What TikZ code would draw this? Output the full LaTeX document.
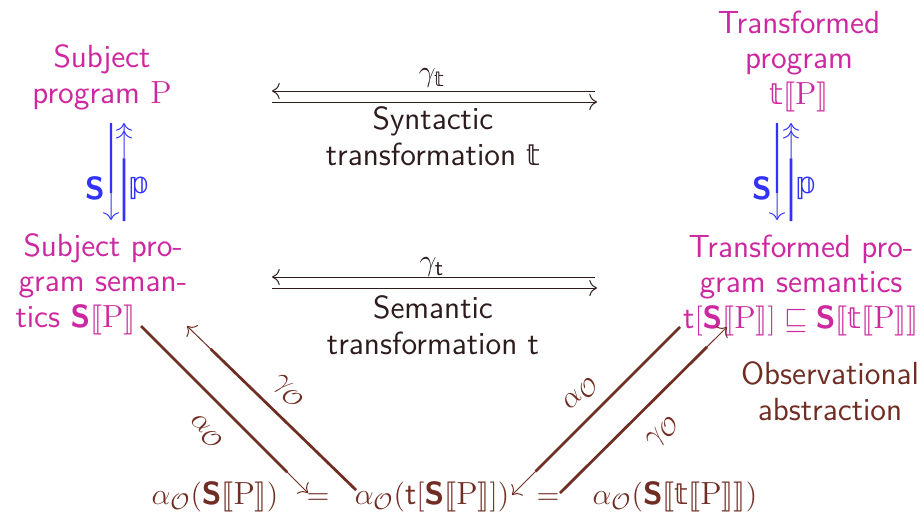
\documentclass[tikz,border=0pt]{standalone}
\usepackage{amsmath}
\usepackage{stmaryrd}
\usepackage{fontspec}
\newfontfamily\djv{DejaVu Sans}[Scale=0.92]
\usetikzlibrary{calc,arrows.meta}
\definecolor{mag}{RGB}{205,40,160}
\definecolor{blu}{RGB}{50,50,250}
\definecolor{brn}{RGB}{112,45,35}
\definecolor{drk}{RGB}{45,28,28}
\newcommand{\Sem}{\textsf{\textbf{S}}}
\newcommand{\semb}[1]{\llbracket #1\rrbracket}
\newcommand{\bt}{\text{\djv\symbol{"1D565}}}
\newcommand{\bp}{\text{\djv\symbol{"1D561}}}
\newcommand{\Prg}{\mathrm{P}}
\begin{document}
\begin{tikzpicture}[x=0.4pt,y=-0.4pt,
  font=\fontsize{12.8pt}{14.2pt}\selectfont\sffamily,
  every node/.style={inner sep=0pt},
  txt/.style={align=center, anchor=base},
  thk/.style={line width=1.1pt},
  thn/.style={line width=0.4pt},
  vthk/.style={line width=0.9pt},
  tipone/.style={-{To[scale=1.25]}},
  tiptwo/.style={-{To[scale=1.25]To[scale=1.25]}}]
\useasboundingbox (0,0) rectangle (924,521);

% program nodes (base anchor = baseline of last line)
\node[txt, mag] (sp) at (102,103) {Subject\\program $\Prg$};
\node[txt, mag] (tp) at (799,104) {Transformed\\program\\$\bt\semb{\Prg}$};
\node[txt, mag, align=left, anchor=base west] (ss) at (15,327)
  {\hspace*{3.2pt}Subject pro-\\\hspace*{1.2pt}gram seman-\\tics $\Sem\semb{\Prg}$};
\node[txt, mag] (ts) at (801,328) {Transformed pro-\\gram semantics\\$\textsf{t}[\Sem\semb{\Prg}]\sqsubseteq\Sem\semb{\bt\semb{\Prg}}$};

% middle labels
\node[txt, drk] (syn) at (433,165) {Syntactic\\transformation $\bt$};
\node[drk] (gsyn) at (432,78) {$\gamma_{\bt}$};
\node[txt, drk] (smt) at (433,354) {Semantic\\transformation t};
\node[drk] (gsmt) at (432,267) {$\gamma_{\textsf{t}}$};

% bottom row
\node[anchor=base, brn] (b1) at (215,504) {$\alpha_{\mathcal O}(\Sem\semb{\Prg})$};
\node[anchor=base, brn] (eq1) at (318,504) {$=$};
\node[anchor=base, brn] (b2) at (432,504) {$\alpha_{\mathcal O}(\textsf{t}[\Sem\semb{\Prg}])$};
\node[anchor=base, brn] (eq2) at (548,504) {$=$};
\node[anchor=base, brn] (b3) at (675,504) {$\alpha_{\mathcal O}(\Sem\semb{\bt\semb{\Prg}})$};

\node[txt, brn] (obs) at (830,420) {Observational\\abstraction};

% vertical arrow labels
\node[blu] (lS) at (95,188) {\Sem};
\node[blu] (lp) at (140,188) {$\bp$};
\node[blu] (rS) at (762,188) {\Sem};
\node[blu] (rp) at (807,188) {$\bp$};

% diagonal labels
\node[brn, rotate=-45] (la) at (206,432) {$\alpha_{\mathcal O}$};
\node[brn, rotate=-45] (lg) at (288,392) {$\gamma_{\mathcal O}$};
\node[brn, rotate=45] (ra) at (581,394) {$\alpha_{\mathcal O}$};
\node[brn, rotate=45] (rg) at (663,432) {$\gamma_{\mathcal O}$};

% coordinates
\coordinate (lSa) at (111,123); \coordinate (lSb) at (111,220);
\coordinate (lpa) at (124,221); \coordinate (lpb) at (124,123);
\coordinate (rSa) at (777,123); \coordinate (rSb) at (777,220);
\coordinate (rpa) at (791,221); \coordinate (rpb) at (791,123);
\coordinate (h1a) at (595,91);  \coordinate (h1b) at (272,91);
\coordinate (h2a) at (272,102); \coordinate (h2b) at (597,102);
\coordinate (h3a) at (595,277); \coordinate (h3b) at (272,277);
\coordinate (h4a) at (272,288); \coordinate (h4b) at (597,288);
\coordinate (laa) at (141,326); \coordinate (lab) at (308,493);
\coordinate (lga) at (356,490); \coordinate (lgb) at (187,326);
\coordinate (raa) at (680,327); \coordinate (rab) at (512,495);
\coordinate (rga) at (560,493); \coordinate (rgb) at (727,327);

% vertical arrows
\draw[blu, vthk] (lSa) -- ($(lSa)!0.72!(lSb)$);
\draw[blu, thn, tipone] ($(lSa)!0.72!(lSb)$) -- (lSb);
\draw[blu, thk] (lpa) -- ($(lpa)!0.64!(lpb)$);
\draw[blu, thn, tiptwo] ($(lpa)!0.64!(lpb)$) -- (lpb);
\draw[blu, vthk] (rSa) -- ($(rSa)!0.72!(rSb)$);
\draw[blu, thn, tipone] ($(rSa)!0.72!(rSb)$) -- (rSb);
\draw[blu, thk] (rpa) -- ($(rpa)!0.64!(rpb)$);
\draw[blu, thn, tiptwo] ($(rpa)!0.64!(rpb)$) -- (rpb);

% horizontal arrows
\draw[drk, thn, tipone] (h1a) -- (h1b);
\draw[drk, thn, tipone] (h2a) -- (h2b);
\draw[drk, thn, tipone] (h3a) -- (h3b);
\draw[drk, thn, tipone] (h4a) -- (h4b);

% diagonal arrows
\draw[brn, thk] (laa) -- ($(laa)!0.875!(lab)$);
\draw[brn, thn, tipone] ($(laa)!0.875!(lab)$) -- (lab);
\draw[brn, thk] (lga) -- ($(lga)!0.86!(lgb)$);
\draw[brn, thn, tipone] ($(lga)!0.86!(lgb)$) -- (lgb);
\draw[brn, thk] (raa) -- ($(raa)!0.86!(rab)$);
\draw[brn, thn, tipone] ($(raa)!0.86!(rab)$) -- (rab);
\draw[brn, thk] (rga) -- ($(rga)!0.88!(rgb)$);
\draw[brn, thn, tipone] ($(rga)!0.88!(rgb)$) -- (rgb);
\end{tikzpicture}
\end{document}
